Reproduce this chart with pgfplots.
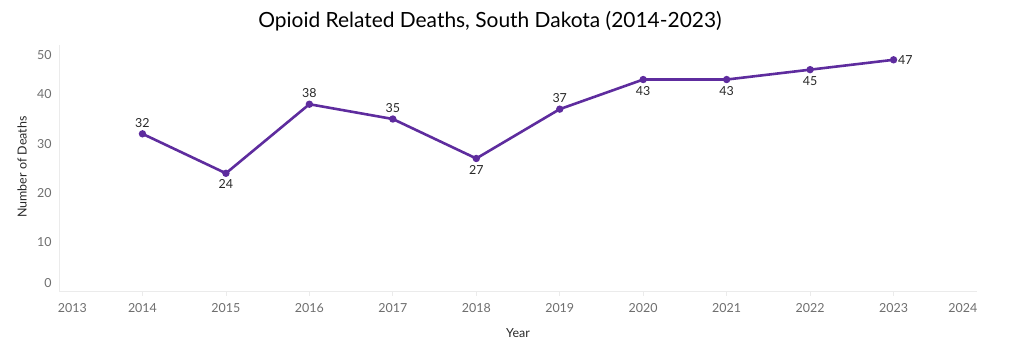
\documentclass[border=0pt]{standalone}
\usepackage{pgfplots}
\pgfplotsset{compat=1.18}
\usepackage{fontspec}
\setmainfont{Lato}
\definecolor{linepurple}{RGB}{94,44,158}
\definecolor{ticklab}{RGB}{110,110,110}
\definecolor{darktext}{RGB}{40,40,40}
\definecolor{axisgray}{RGB}{235,235,235}
\begin{document}
\begin{tikzpicture}[x=1bp,y=1bp]
\useasboundingbox (0,0) rectangle (1024,358);
\begin{axis}[
  at={(59bp,66.3bp)}, anchor=south west,
  scale only axis, width=918bp, height=246.7bp,
  xmin=2013, xmax=2024, ymin=0, ymax=50,
  clip=false,
  axis lines*=left,
  axis line style={draw=axisgray, line width=0.8bp},
  xtick={2014,2015,2016,2017,2018,2019,2020,2021,2022,2023},
  extra x ticks={2013.16,2023.83},
  extra x tick labels={2013,2024},
  extra x tick style={major tick length=0pt, xticklabel style={yshift=-4bp}},
  ytick={1.8,10,20,30,40,48},
  yticklabels={0,10,20,30,40,50},
  y tick style={draw=none},
  x tick style={draw=axisgray, line width=0.8bp},
  tick align=outside,
  major tick length=4bp,
  /pgf/number format/1000 sep={},
  /pgf/number format/assume math mode=true,
  tick label style={font=\fontsize{12.5}{14}\selectfont, text=ticklab},
  xticklabel style={yshift=-4bp},
  nodes near coords style={font=\fontsize{12.5}{14}\selectfont, text=darktext},
]
\addplot[color=linepurple, line width=2.6bp, mark=*, mark size=2.3bp, mark options={fill=linepurple, draw=linepurple}] coordinates {
(2014,32) (2015,24) (2016,38) (2017,35) (2018,27) (2019,37) (2020,43) (2021,43) (2022,45) (2023,47)
};
% labels above
\addplot[draw=none, mark=none, forget plot, nodes near coords, point meta=explicit symbolic,
  nodes near coords style={anchor=south, yshift=3bp}] coordinates {
(2014,32) [32] (2016,38) [38] (2017,35) [35] (2019,37) [37]
};
% labels below
\addplot[draw=none, mark=none, forget plot, nodes near coords, point meta=explicit symbolic,
  nodes near coords style={anchor=north, yshift=-3bp}] coordinates {
(2015,24) [24] (2018,27) [27] (2020,43) [43] (2021,43) [43] (2022,45) [45]
};
% label right
\addplot[draw=none, mark=none, forget plot, nodes near coords, point meta=explicit symbolic,
  nodes near coords style={anchor=west, xshift=1bp, yshift=0bp}] coordinates {
(2023,47) [47]
};
\end{axis}
\node[font=\fontsize{21}{24}\selectfont, text=black] at (490,337) {Opioid Related Deaths, South Dakota (2014-2023)};
\node[font=\fontsize{12.5}{14}\selectfont, text=darktext, rotate=90] at (22,191) {Number of Deaths};
\node[font=\fontsize{12.5}{14}\selectfont, text=darktext] at (518,25) {Year};
\end{tikzpicture}
\end{document}
